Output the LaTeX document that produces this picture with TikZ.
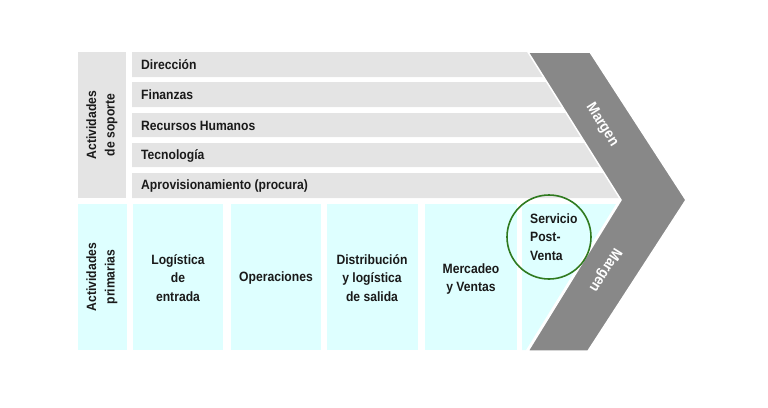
\documentclass[tikz,border=0pt]{standalone}
\usepackage{fontspec}
\setmainfont[FakeStretch=0.9]{Liberation Sans}
\definecolor{supgray}{HTML}{E4E4E4}
\definecolor{primcyan}{HTML}{DEFFFF}
\definecolor{chevgray}{HTML}{888888}
\definecolor{circgreen}{HTML}{2F7A1F}
\definecolor{txt}{HTML}{1A1A1A}
\tikzset{
  lbl/.style={font=\fontsize{13.5}{18.5}\selectfont\bfseries, text=txt, inner sep=0pt},
  rowlbl/.style={lbl, anchor=west},
  supfill/.style={fill=supgray, draw=none},
  primfill/.style={fill=primcyan, draw=none},
  mlbl/.style={font=\fontsize{15}{16}\selectfont\bfseries, text=white, inner sep=0pt}
}
\begin{document}
\begin{tikzpicture}[x=1pt,y=-1pt]
\useasboundingbox (0,0) rectangle (768,407);
% support label box
\fill[supfill] (78,52) rectangle (126,198);
\node[lbl, rotate=90, align=center] (supl) at (102,125) {Actividades\\de soporte};
% support rows
\fill[supfill] (132,52) -- (548,52) -- (563.7,77) -- (132,77) -- cycle;
\fill[supfill] (132,82) -- (566.9,82) -- (582.6,107) -- (132,107) -- cycle;
\fill[supfill] (132,113) -- (586.3,113) -- (601.4,137) -- (132,137) -- cycle;
\fill[supfill] (132,143) -- (605.2,143) -- (620.3,167) -- (132,167) -- cycle;
\fill[supfill] (132,173) -- (624,173) -- (639.7,198) -- (132,198) -- cycle;
\node[rowlbl] (dir) at (141,65) {Dirección};
\node[rowlbl] (fin) at (141,95) {Finanzas};
\node[rowlbl] (rh) at (141,126) {Recursos Humanos};
\node[rowlbl] (tec) at (141,156) {Tecnología};
\node[rowlbl] (apr) at (141,186) {Aprovisionamiento (procura)};
% primary boxes
\fill[primfill] (78,204) rectangle (127,350);
\node[lbl, rotate=90, align=center] (priml) at (102,277) {Actividades\\primarias};
\fill[primfill] (133,204) rectangle (223,350);
\fill[primfill] (231,204) rectangle (321,350);
\fill[primfill] (327,204) rectangle (418,350);
\fill[primfill] (425,204) rectangle (517,350);
\fill[primfill] (522,204) -- (616,204) -- (526,350) -- (522,350) -- cycle;
\node[lbl, align=center] (log) at (178,278) {Logística\\de\\entrada};
\node[lbl, align=center] (ope) at (276,278) {Operaciones};
\node[lbl, align=center] (dis) at (372,278) {Distribución\\y logística\\de salida};
\node[lbl, align=center] (mer) at (471,279) {Mercadeo\\y Ventas};
\node[lbl, align=left, anchor=west] (ser) at (530,237) {Servicio\\Post-\\Venta};
% chevron
\fill[chevgray, draw=white, line width=1.5pt, line join=miter]
  (528,52) -- (590,52) -- (686,200) -- (588,351) -- (528,351) -- (621,200) -- cycle;
\node[mlbl, rotate=-57.9] (m1) at (602,125) {Margen};
\node[mlbl, rotate=-122.1] (m2) at (605,270) {Margen};
% circle
\draw[circgreen, line width=1.6pt] (549,237) circle (42);
\end{tikzpicture}
\end{document}
